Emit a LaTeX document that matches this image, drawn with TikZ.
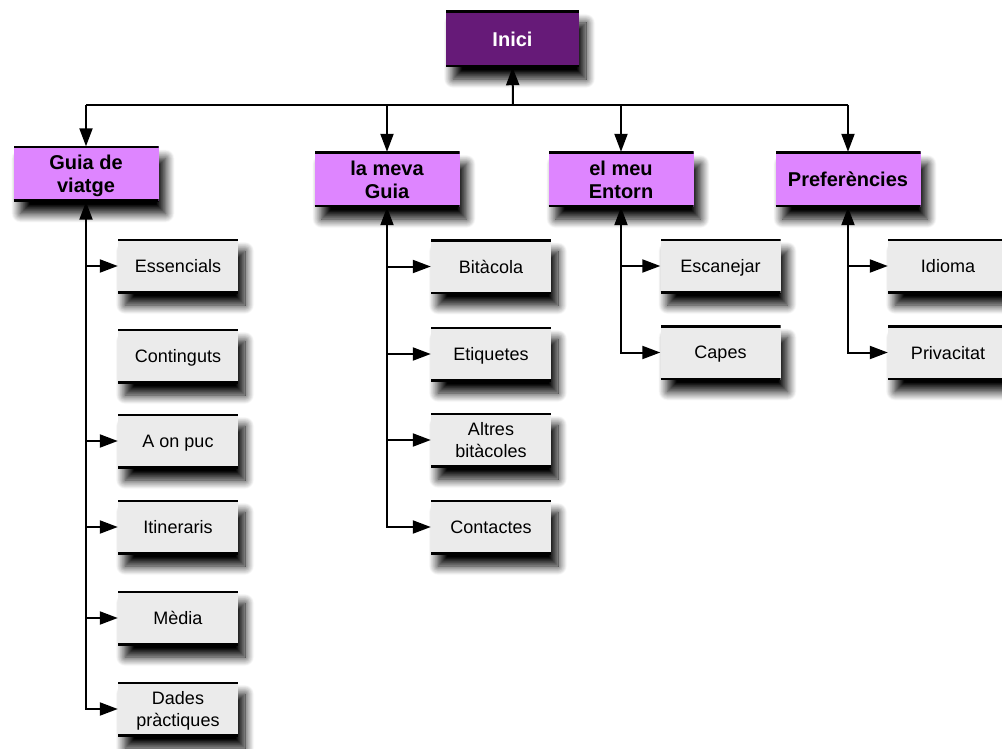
\documentclass[tikz,border=0pt]{standalone}
\usepackage{fontspec}
\setmainfont{Liberation Sans}
\usepackage{tikz}
\usetikzlibrary{arrows.meta,shadows.blur}

\definecolor{inicicol}{HTML}{661A78}
\definecolor{menucol}{HTML}{DE85FF}
\definecolor{leafcol}{HTML}{EBEBEB}

\tikzset{
  box/.style={align=center, inner sep=0pt, text depth=0pt,
    blur shadow={shadow xshift=7pt, shadow yshift=-12pt, shadow blur radius=9pt,
      shadow blur steps=14, shadow opacity=100},
    path picture={\draw[line width=4pt]
      (path picture bounding box.north west) -- (path picture bounding box.north east)
      (path picture bounding box.south west) -- (path picture bounding box.south east);}},
  rootbox/.style={box, minimum width=133pt, minimum height=56pt, fill=inicicol,
    text=white, font=\bfseries\fontsize{20}{23}\selectfont},
  menubox/.style={box, minimum width=145pt, minimum height=55pt, fill=menucol,
    font=\bfseries\fontsize{20}{23}\selectfont},
  leafbox/.style={box, minimum width=120pt, minimum height=54pt, fill=leafcol,
    font=\fontsize{18}{22}\selectfont},
  arr/.style={line width=2pt, -{Triangle[length=18pt,width=13pt]}},
  arrs/.style={line width=2pt, {Triangle[length=18pt,width=13pt]}-{Triangle[length=18pt,width=13pt]}}
}

\begin{document}
\begin{tikzpicture}[x=1pt,y=-1pt]

\clip (0,0) rectangle (1002,749);

% arrel i menus
\node [rootbox] (inici) at (512.5,39) {Inici};

\node [menubox] (guia)   at (86,174)    {Guia de\\viatge};
\node [menubox] (meva)   at (387,179.5) {la meva\\Guia};
\node [menubox] (entorn) at (621,179.5) {el meu\\Entorn};
\node [menubox] (pref)   at (848,179.5) {Preferències};

% fulles
\foreach \n/\y/\t in {ess/266/Essencials, cont/356/Continguts, apuc/441/A on puc,
                      itin/527/Itineraris, media/618/Mèdia, dades/709/{Dades\\pràctiques}}
    \node [leafbox] (\n) at (178,\y) {\t};

\foreach \n/\y/\t in {bit/266.5/Bitàcola, etiq/354/Etiquetes,
                      altres/440/{Altres\\bitàcoles}, cont2/527/Contactes}
    \node [leafbox] (\n) at (491,\y) {\t};

\foreach \n/\y/\t in {esc/266/Escanejar, capes/352.5/Capes}
    \node [leafbox] (\n) at (720.5,\y) {\t};

\foreach \n/\y/\t in {idioma/266/Idioma, priv/352.5/Privacitat}
    \node [leafbox] (\n) at (948,\y) {\t};

% connectors
\coordinate (bus) at (513,105);

\draw [arr] (bus) -- (inici.south);
\draw [line width=2pt] (bus -| guia) -- (bus -| pref);

\foreach \n in {guia,meva,entorn,pref}
    \draw [arr] (bus -| \n) -- (\n.north);

\draw [arrs] (guia.south) -- (guia |- dades) -- (dades.west);
\foreach \n in {ess,apuc,itin,media}
    \draw [arr] (guia |- \n) -- (\n.west);

\draw [arrs] (meva.south) -- (meva |- cont2) -- (cont2.west);
\foreach \n in {bit,etiq,altres}
    \draw [arr] (meva |- \n) -- (\n.west);

\draw [arrs] (entorn.south) -- (entorn |- capes) -- (capes.west);
\draw [arr] (entorn |- esc) -- (esc.west);

\draw [arrs] (pref.south) -- (pref |- priv) -- (priv.west);
\draw [arr] (pref |- idioma) -- (idioma.west);

\end{tikzpicture}
\end{document}
